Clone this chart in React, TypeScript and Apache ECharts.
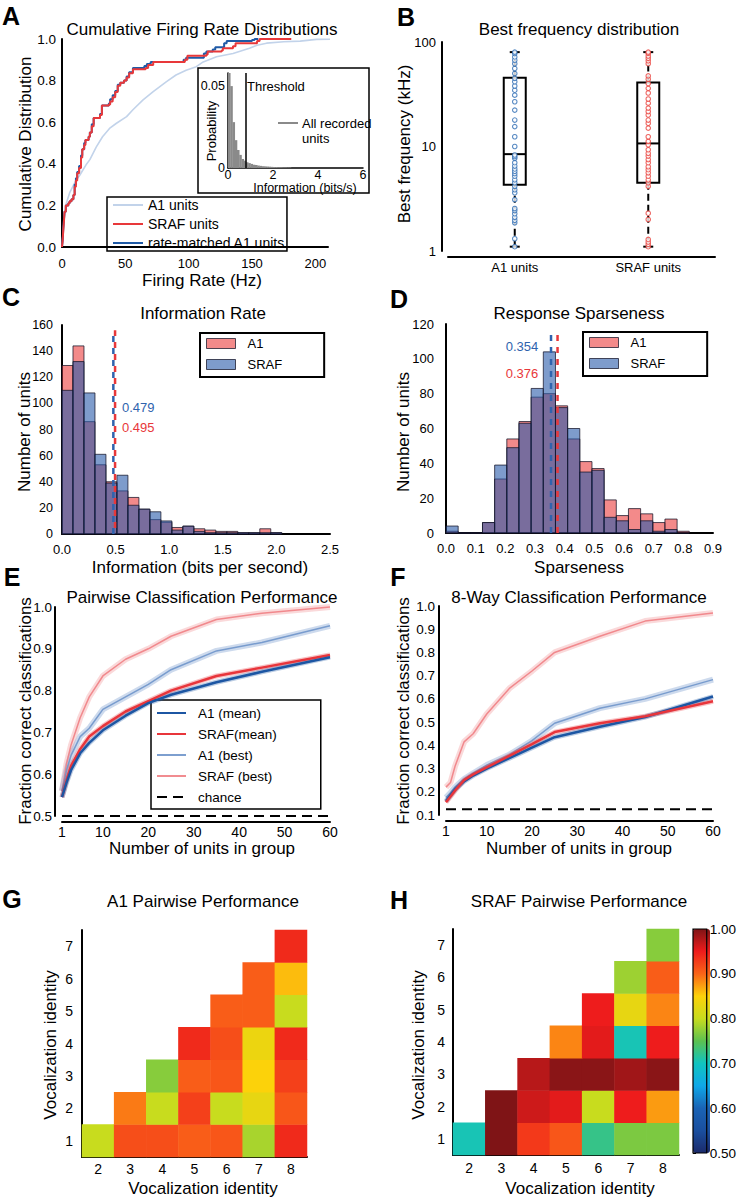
import React, { useEffect, useRef } from "react";
import * as echarts from "echarts";

const FONT = '"Liberation Sans", Arial, Helvetica, sans-serif';

// ---------- Panel A: cumulative firing-rate distributions ----------
const sRafRate = [0, 0.5, 1, 1.5, 2, 3, 5, 6, 7.5, 9, 10, 11, 12, 13.5, 15, 16, 17.5, 18.5, 21, 22, 23.5, 25, 30, 31.5, 37, 38, 40, 42, 44, 46, 49, 51, 53, 56, 66, 68, 72, 97, 99, 114, 115, 126, 127, 135, 137, 154, 156, 181];
const sRafCdf = [0, 0.03, 0.08, 0.12, 0.17, 0.2, 0.21, 0.22, 0.23, 0.25, 0.29, 0.32, 0.355, 0.38, 0.43, 0.47, 0.49, 0.515, 0.53, 0.55, 0.58, 0.62, 0.635, 0.68, 0.685, 0.7, 0.72, 0.745, 0.775, 0.79, 0.8, 0.815, 0.835, 0.855, 0.86, 0.875, 0.89, 0.9, 0.92, 0.925, 0.94, 0.945, 0.955, 0.965, 0.98, 0.99, 1.0, 1.0];
const matchedRate = [0, 0.5, 1, 1.5, 2, 3, 5, 6, 7.5, 9, 10, 11, 12, 13.5, 15, 16, 17.5, 18.5, 21, 22, 23.5, 25, 30, 31.5, 37, 38, 40, 42, 44, 46, 49, 51, 53, 56, 65, 67, 70, 96, 98, 112, 114, 119, 121, 128, 130, 150, 152, 155];
const matchedCdf = [0, 0.03, 0.09, 0.13, 0.17, 0.2, 0.21, 0.22, 0.23, 0.25, 0.3, 0.33, 0.36, 0.39, 0.44, 0.47, 0.5, 0.515, 0.53, 0.55, 0.59, 0.62, 0.64, 0.68, 0.69, 0.71, 0.73, 0.75, 0.78, 0.79, 0.8, 0.82, 0.84, 0.86, 0.87, 0.88, 0.89, 0.9, 0.91, 0.93, 0.94, 0.95, 0.96, 0.98, 0.99, 0.995, 1.0, 1.0];
const a1Rate = [0, 1, 2, 3.4, 6, 8.5, 11, 14, 16.5, 19, 22, 27, 32, 37.5, 43, 51, 56, 64, 72, 82.5, 90, 98, 106, 111.5, 122, 135, 148, 154, 161.5, 175, 188, 201, 221];
const a1Cdf = [0, 0.08, 0.147, 0.21, 0.26, 0.29, 0.32, 0.345, 0.37, 0.395, 0.42, 0.48, 0.53, 0.57, 0.595, 0.627, 0.66, 0.707, 0.747, 0.795, 0.827, 0.85, 0.867, 0.89, 0.915, 0.93, 0.955, 0.97, 0.98, 0.987, 0.99, 0.998, 1.0];

// inset: information of all recorded units
const insetBinWidth = 0.1;
const insetProb = [0.058, 0.05, 0.028, 0.017, 0.011, 0.008, 0.0055, 0.0045, 0.0035, 0.003, 0.0025, 0.002, 0.0018, 0.0015, 0.0013, 0.0011, 0.001, 0.0009, 0.0008, 0.0007, 0.0006, 0.0006, 0.0005, 0.0005, 0.0004, 0.0004, 0.0003, 0.0003];
const threshold = 0.8;
const insetYMax = 0.058;

// ---------- Panel B: best frequency ----------
const boxCategories = ["A1 units", "SRAF units"];
const a1Box = [1.1, 4.3, 8.45, 45.5, 80]; // min, q1, median, q3, max
const sRafBox = [1.1, 4.5, 10.7, 41, 80];
const a1BF = [1.1, 1.31, 1.86, 1.97, 2.1, 2.27, 2.44, 2.55, 3.1, 3.6, 3.86, 4.16, 4.5, 4.8, 5.2, 5.5, 5.8, 6.1, 6.5, 7.0, 7.7, 8.0, 8.3, 10, 12.4, 15.5, 17.9, 22.3, 26.8, 31, 34.6, 37.9, 41.7, 44.9, 50, 55.8, 62, 67, 72, 77.5, 80];
const sRafBF = [1.1, 1.16, 1.22, 1.29, 2.0, 2.3, 4.16, 4.5, 4.8, 5.2, 5.6, 6.0, 6.4, 7.0, 7.5, 8.1, 8.6, 9.3, 10.4, 11.2, 12.4, 15, 16.7, 17.9, 20, 21.6, 23.3, 26, 28.5, 32.5, 36, 40, 44, 47.4, 62, 66, 69.8, 73.5, 78, 80];

// ---------- Panel C: information rate histogram ----------
const cBinWidth = 0.1025;
const cA1Counts = [129, 144, 86, 53, 40, 33, 28, 19, 11, 9, 5, 6, 4, 3, 2, 2, 1, 1, 4, 1];
const cSrafCounts = [110, 132, 108, 61, 39, 45, 22, 19, 17, 10, 3, 6, 2, 1, 1, 1, 1, 1, 1, 1];
const cA1Median = 0.495;
const cSrafMedian = 0.479;

// ---------- Panel D: sparseness histogram ----------
const dBinWidth = 0.041;
const dA1Counts = [1, 0, 0, 6, 31, 54, 64, 78, 80, 73, 54, 41, 37, 19, 10, 14, 11, 6, 8, 1];
const dSrafCounts = [4, 0, 0, 6, 39, 49, 63, 83, 104, 72, 60, 35, 36, 9, 7, 2, 7, 1, 2, 0];
const dA1Median = 0.376;
const dSrafMedian = 0.354;

// ---------- Panels E/F: classification performance ----------
const groupSizes = [1, 2, 3, 5, 7, 10, 15, 20, 25, 35, 45, 60];
const ePairA1Mean = [0.545, 0.58, 0.61, 0.65, 0.675, 0.705, 0.74, 0.77, 0.79, 0.82, 0.845, 0.88];
const ePairSrafMean = [0.545, 0.585, 0.62, 0.66, 0.69, 0.715, 0.75, 0.775, 0.8, 0.835, 0.855, 0.885];
const ePairA1Best = [0.56, 0.61, 0.645, 0.69, 0.71, 0.755, 0.785, 0.815, 0.85, 0.895, 0.915, 0.955];
const ePairSrafBest = [0.56, 0.625, 0.67, 0.735, 0.785, 0.835, 0.875, 0.9, 0.93, 0.97, 0.985, 1.0];
const pairChance = 0.5;
const f8A1Mean = [0.16, 0.185, 0.21, 0.245, 0.27, 0.3, 0.345, 0.39, 0.435, 0.48, 0.522, 0.61];
const f8SrafMean = [0.155, 0.18, 0.205, 0.25, 0.275, 0.305, 0.355, 0.405, 0.457, 0.495, 0.525, 0.59];
const f8A1Best = [0.175, 0.195, 0.22, 0.255, 0.28, 0.315, 0.36, 0.42, 0.495, 0.56, 0.6, 0.683];
const f8SrafBest = [0.22, 0.24, 0.31, 0.415, 0.45, 0.535, 0.645, 0.72, 0.8, 0.87, 0.935, 0.97];
const eightChance = 0.125;
const unitTicks = [1, 10, 20, 30, 40, 50, 60];

// ---------- Panels G/H: pairwise performance matrices ----------
const vocX = ["2", "3", "4", "5", "6", "7", "8"];
const vocY = ["1", "2", "3", "4", "5", "6", "7"];
// row r (1..7): values for columns r+1 .. 8
const a1PairRows = [
  [0.8, 0.915, 0.915, 0.905, 0.91, 0.785, 0.94],
  [0.89, 0.8, 0.925, 0.8, 0.83, 0.91],
  [0.77, 0.905, 0.91, 0.85, 0.925],
  [0.94, 0.915, 0.835, 0.94],
  [0.905, 0.905, 0.8],
  [0.905, 0.86],
  [0.94],
];
const srafPairRows = [
  [0.705, 1.0, 0.93, 0.91, 0.725, 0.765, 0.765],
  [1.0, 0.965, 0.955, 0.8, 0.95, 0.875],
  [0.975, 0.995, 0.995, 0.985, 0.995],
  [0.885, 0.955, 0.705, 0.95],
  [0.95, 0.83, 0.885],
  [0.78, 0.905],
  [0.77],
];
const colorScale = ["#1b2a6b", "#1a4f9f", "#1a63b5", "#0fa8e8", "#10c4c0", "#5cc150", "#c8dc1e", "#fcd20a", "#fa6418", "#ee1c1c", "#7f1416"];

// ---------- colours ----------
const RED_FILL = "rgba(235, 60, 60, 0.6)";
const BLUE_FILL = "rgba(40, 90, 170, 0.6)";
const BAR_EDGE = "rgba(20, 20, 40, 0.75)";
const A1_MEAN = "#1c56a3";
const SRAF_MEAN = "#e8353b";
const A1_BEST = "#6f95ca";
const SRAF_BEST = "#f08084";

function pairs(xs: number[], ys: number[]) {
  return xs.map((x, i) => [x, ys[i]]);
}

function histSeries(name: string, counts: number[], bw: number, idx: number, fill: string, z: number) {
  return {
    type: "custom",
    name,
    xAxisIndex: idx,
    yAxisIndex: idx,
    z,
    silent: true,
    itemStyle: { color: fill },
    encode: { x: [0, 1], y: 2 },
    data: counts.map((c, i) => [i * bw, (i + 1) * bw, c]),
    renderItem: (_p: any, api: any) => {
      const p0 = api.coord([api.value(0), api.value(2)]);
      const p1 = api.coord([api.value(1), 0]);
      return {
        type: "rect",
        shape: { x: p0[0], y: p0[1], width: p1[0] - p0[0], height: p1[1] - p0[1] },
        style: { fill, stroke: BAR_EDGE, lineWidth: 1 },
      };
    },
  };
}

function curve(name: string, ys: number[], idx: number, color: string, width: number, opacity: number, z: number) {
  return {
    type: "line",
    name,
    xAxisIndex: idx,
    yAxisIndex: idx,
    data: pairs(groupSizes, ys),
    symbol: "none",
    showSymbol: false,
    clip: false,
    silent: true,
    z,
    itemStyle: { color },
    lineStyle: { color, width, opacity },
  };
}

function vline(name: string, x: number, top: number, idx: number, color: string, dashOffset: number) {
  return {
    type: "line",
    name,
    xAxisIndex: idx,
    yAxisIndex: idx,
    data: [[x, 0], [x, top]],
    symbol: "none",
    silent: true,
    clip: false,
    z: 6,
    lineStyle: { color, width: 2.5, type: [6, 6], dashOffset },
  };
}

function heatData(rows: number[][]) {
  const out: number[][] = [];
  rows.forEach((vals, ri) => {
    vals.forEach((v, j) => out.push([ri + j, ri, v]));
  });
  return out;
}

function text(t: string, x: number, y: number, size: number, opts: any = {}) {
  const align = opts.align || "center";
  return {
    type: "text",
    x,
    y,
    rotation: opts.rotate ? Math.PI / 2 : 0,
    z: 50,
    silent: true,
    style: {
      text: t,
      fontSize: size,
      fontFamily: FONT,
      fontWeight: opts.bold ? "bold" : "normal",
      fill: opts.color || "#000",
      align,
      verticalAlign: "middle",
      textAlign: align,
      textVerticalAlign: "middle",
    },
  };
}

const axisLineStyle = { show: true, lineStyle: { color: "#000", width: 2 } };
const lbl = (extra: any) => ({ color: "#000", fontSize: 13, fontFamily: FONT, ...extra });
const noSplit = { show: false };
const noTick = { show: false };

function buildOption() {
  const grids = [
    { left: 62, top: 39, width: 266, height: 208 }, // 0 A
    { left: 228, top: 73, width: 135, height: 95 }, // 1 inset
    { left: 448, top: 42, width: 267, height: 209 }, // 2 B
    { left: 62, top: 325, width: 268, height: 209 }, // 3 C
    { left: 446, top: 324, width: 267, height: 209 }, // 4 D
    { left: 62, top: 607, width: 268, height: 209 }, // 5 E
    { left: 446, top: 606, width: 267, height: 209 }, // 6 F
    { left: 82, top: 930, width: 225, height: 227 }, // 7 G
    { left: 453, top: 929, width: 226, height: 226 }, // 8 H
    { left: 693, top: 929, width: 17, height: 224, show: true, borderColor: "#000", borderWidth: 1.2, backgroundColor: "transparent", z: 10 }, // 9 colourbar
  ];

  const xAxis: any[] = [
    { type: "value", gridIndex: 0, min: 0, max: 210, interval: 50, offset: 8, axisLine: axisLineStyle, axisTick: noTick, splitLine: noSplit,
      axisLabel: lbl({ fontSize: 13, margin: 2, formatter: (v: number) => (v % 50 === 0 ? String(v) : "") }) },
    { type: "value", gridIndex: 1, min: 0, max: 6, interval: 2, axisLine: { show: true, lineStyle: { color: "#000", width: 1.5 } }, axisTick: noTick, splitLine: noSplit,
      axisLabel: lbl({ fontSize: 12.5, margin: 0 }) },
    { type: "category", gridIndex: 2, data: boxCategories, offset: 6, axisLine: axisLineStyle, axisTick: noTick, splitLine: noSplit,
      axisLabel: lbl({ margin: 4 }) },
    { type: "value", gridIndex: 3, min: 0, max: 2.5, interval: 0.5, offset: 7, axisLine: axisLineStyle, axisTick: noTick, splitLine: noSplit,
      axisLabel: lbl({ fontSize: 13, margin: 2, formatter: (v: number) => v.toFixed(1) }) },
    { type: "value", gridIndex: 4, min: 0, max: 0.9, interval: 0.1, offset: 6, axisLine: axisLineStyle, axisTick: noTick, splitLine: noSplit,
      axisLabel: lbl({ fontSize: 13, margin: 3, formatter: (v: number) => v.toFixed(1) }) },
    { type: "value", gridIndex: 5, min: 1, max: 60, offset: 6, axisLine: axisLineStyle, axisTick: noTick, splitLine: noSplit,
      axisLabel: lbl({ fontSize: 14, margin: 3, customValues: unitTicks }) },
    { type: "value", gridIndex: 6, min: 1, max: 60, offset: 6, axisLine: axisLineStyle, axisTick: noTick, splitLine: noSplit,
      axisLabel: lbl({ fontSize: 14, margin: 3, customValues: unitTicks }) },
    { type: "category", gridIndex: 7, data: vocX, axisLine: axisLineStyle, axisTick: noTick, splitLine: noSplit, splitArea: { show: false },
      axisLabel: lbl({ fontSize: 14, margin: 5 }) },
    { type: "category", gridIndex: 8, data: vocX, axisLine: axisLineStyle, axisTick: noTick, splitLine: noSplit, splitArea: { show: false },
      axisLabel: lbl({ fontSize: 14, margin: 6 }) },
    { type: "value", gridIndex: 9, show: false, min: 0, max: 1 },
  ];

  const yAxis: any[] = [
    { type: "value", gridIndex: 0, min: 0, max: 1, interval: 0.2, offset: 1, axisLine: axisLineStyle, axisTick: noTick, splitLine: noSplit,
      axisLabel: lbl({ fontSize: 13.5, margin: 5, formatter: (v: number) => v.toFixed(1) }) },
    { type: "value", gridIndex: 1, min: 0, max: insetYMax, interval: 0.05, axisLine: { show: true, lineStyle: { color: "#000", width: 1.5 } }, axisTick: noTick, splitLine: noSplit,
      axisLabel: lbl({ fontSize: 12.5, margin: 3, formatter: (v: number) => (Math.abs(v) < 1e-9 ? "0" : Math.abs(v - 0.05) < 1e-9 ? "0.05" : "") }) },
    { type: "log", gridIndex: 2, min: 1, max: 100, logBase: 10, offset: 6, axisLine: axisLineStyle, axisTick: noTick, splitLine: noSplit, minorTick: { show: false },
      axisLabel: lbl({ margin: 6, formatter: (v: number) => String(Math.round(v)) }) },
    { type: "value", gridIndex: 3, min: 0, max: 160, interval: 20, offset: 5, axisLine: axisLineStyle, axisTick: noTick, splitLine: noSplit,
      axisLabel: lbl({ fontSize: 12.5, margin: 4 }) },
    { type: "value", gridIndex: 4, min: 0, max: 120, interval: 20, offset: 7, axisLine: axisLineStyle, axisTick: noTick, splitLine: noSplit,
      axisLabel: lbl({ fontSize: 13, margin: 5 }) },
    { type: "value", gridIndex: 5, min: 0.5, max: 1.0, interval: 0.1, offset: 7, axisLine: axisLineStyle, axisTick: noTick, splitLine: noSplit,
      axisLabel: lbl({ fontSize: 13.5, margin: 3, formatter: (v: number) => v.toFixed(1) }) },
    { type: "value", gridIndex: 6, min: 0.1, max: 1.0, interval: 0.1, offset: 7, axisLine: axisLineStyle, axisTick: noTick, splitLine: noSplit,
      axisLabel: lbl({ fontSize: 13.5, margin: 4, formatter: (v: number) => v.toFixed(1) }) },
    { type: "category", gridIndex: 7, data: vocY, axisLine: axisLineStyle, axisTick: noTick, splitLine: noSplit, splitArea: { show: false },
      axisLabel: lbl({ fontSize: 14, margin: 9 }) },
    { type: "category", gridIndex: 8, data: vocY, axisLine: axisLineStyle, axisTick: noTick, splitLine: noSplit, splitArea: { show: false },
      axisLabel: lbl({ fontSize: 14, margin: 8 }) },
    { type: "value", gridIndex: 9, position: "right", min: 0.5, max: 1.0, interval: 0.1, axisLine: { show: false },
      axisTick: { show: true, length: 3, lineStyle: { color: "#000", width: 1 } }, splitLine: noSplit,
      axisLabel: lbl({ fontSize: 13.5, margin: 3, formatter: (v: number) => v.toFixed(2) }) },
  ];

  const series: any[] = [];
  // A
  series.push({ type: "line", name: "A1 units", xAxisIndex: 0, yAxisIndex: 0, data: pairs(a1Rate, a1Cdf), symbol: "none", clip: false, silent: true, z: 2,
    itemStyle: { color: "#c2d3ea" }, lineStyle: { color: "#c2d3ea", width: 1.6 } });
  series.push({ type: "line", name: "rate-matched A1 units", xAxisIndex: 0, yAxisIndex: 0, data: pairs(matchedRate, matchedCdf), step: "end", symbol: "none", clip: false, silent: true, z: 3,
    itemStyle: { color: "#1f5aa6" }, lineStyle: { color: "#1f5aa6", width: 2 } });
  series.push({ type: "line", name: "SRAF units", xAxisIndex: 0, yAxisIndex: 0, data: pairs(sRafRate, sRafCdf), step: "end", symbol: "none", clip: false, silent: true, z: 4,
    itemStyle: { color: "#e8383a" }, lineStyle: { color: "#e8383a", width: 2 } });
  // inset
  series.push({
    type: "custom", name: "All recorded units", xAxisIndex: 1, yAxisIndex: 1, z: 3, silent: true,
    itemStyle: { color: "#8a8a8a" }, encode: { x: [0, 1], y: 2 },
    data: insetProb.map((p, i) => [i * insetBinWidth, (i + 1) * insetBinWidth, p]),
    renderItem: (_p: any, api: any) => {
      const p0 = api.coord([api.value(0), api.value(2)]);
      const p1 = api.coord([api.value(1), 0]);
      return { type: "rect", shape: { x: p0[0], y: p0[1], width: p1[0] - p0[0] + 0.3, height: p1[1] - p0[1] }, style: { fill: "#8a8a8a" } };
    },
  });
  series.push({ type: "line", name: "Threshold", xAxisIndex: 1, yAxisIndex: 1, data: [[threshold, 0], [threshold, insetYMax]], symbol: "none", silent: true, clip: false, z: 4,
    lineStyle: { color: "#000", width: 1.5 } });
  // B
  series.push({
    type: "custom", name: "box", xAxisIndex: 2, yAxisIndex: 2, z: 3, silent: true,
    encode: { x: 0, y: [1, 2, 3, 4, 5] },
    data: [[0, ...a1Box], [1, ...sRafBox]],
    renderItem: (_p: any, api: any) => {
      const c = api.value(0);
      const pt = (k: number) => api.coord([c, api.value(k)]);
      const pMin = pt(1), pQ1 = pt(2), pMed = pt(3), pQ3 = pt(4), pMax = pt(5);
      const x = pMin[0];
      const hw = 11, cw = 5;
      const blk = { stroke: "#000", lineWidth: 2 };
      return {
        type: "group",
        children: [
          { type: "line", shape: { x1: x, y1: pQ3[1], x2: x, y2: pMax[1] }, style: { ...blk, lineDash: [7, 4] } },
          { type: "line", shape: { x1: x, y1: pQ1[1], x2: x, y2: pMin[1] }, style: { ...blk, lineDash: [7, 4] } },
          { type: "line", shape: { x1: x - cw, y1: pMax[1], x2: x + cw, y2: pMax[1] }, style: blk },
          { type: "line", shape: { x1: x - cw, y1: pMin[1], x2: x + cw, y2: pMin[1] }, style: blk },
          { type: "rect", shape: { x: x - hw, y: pQ3[1], width: 2 * hw, height: pQ1[1] - pQ3[1] }, style: { fill: "none", stroke: "#000", lineWidth: 2 } },
          { type: "line", shape: { x1: x - hw, y1: pMed[1], x2: x + hw, y2: pMed[1] }, style: blk },
        ],
      };
    },
  });
  series.push({ type: "scatter", name: "A1 BF", xAxisIndex: 2, yAxisIndex: 2, z: 4, silent: true, data: a1BF.map((v) => [0, v]),
    symbol: "circle", symbolSize: 4.5, itemStyle: { color: "#fff", borderColor: "#2e6db4", borderWidth: 1.1 } });
  series.push({ type: "scatter", name: "SRAF BF", xAxisIndex: 2, yAxisIndex: 2, z: 4, silent: true, data: sRafBF.map((v) => [1, v]),
    symbol: "circle", symbolSize: 4.5, itemStyle: { color: "#fff", borderColor: "#e8413c", borderWidth: 1.1 } });
  // C
  series.push(histSeries("A1", cA1Counts, cBinWidth, 3, RED_FILL, 3));
  series.push(histSeries("SRAF", cSrafCounts, cBinWidth, 3, BLUE_FILL, 4));
  series.push(vline("C SRAF median", cSrafMedian, 156, 3, "#2f63ad", 0));
  series.push(vline("C A1 median", cA1Median, 156, 3, "#e8383a", 6));
  // D
  series.push(histSeries("A1", dA1Counts, dBinWidth, 4, RED_FILL, 3));
  series.push(histSeries("SRAF", dSrafCounts, dBinWidth, 4, BLUE_FILL, 4));
  series.push(vline("D SRAF median", dSrafMedian, 117, 4, "#2f63ad", 0));
  series.push(vline("D A1 median", dA1Median, 117, 4, "#e8383a", 0));
  // E
  series.push(curve("E sb band", ePairSrafBest, 5, SRAF_BEST, 6, 0.3, 2));
  series.push(curve("E ab band", ePairA1Best, 5, A1_BEST, 6, 0.35, 2));
  series.push(curve("SRAF (best)", ePairSrafBest, 5, SRAF_BEST, 1.5, 0.9, 3));
  series.push(curve("A1 (best)", ePairA1Best, 5, A1_BEST, 1.5, 0.9, 3));
  series.push(curve("E sm band", ePairSrafMean, 5, SRAF_MEAN, 5, 0.3, 4));
  series.push(curve("E am band", ePairA1Mean, 5, A1_MEAN, 5, 0.3, 4));
  series.push(curve("SRAF(mean)", ePairSrafMean, 5, SRAF_MEAN, 2.5, 1, 5));
  series.push(curve("A1 (mean)", ePairA1Mean, 5, A1_MEAN, 2.5, 1, 5));
  series.push({ type: "line", name: "chance", xAxisIndex: 5, yAxisIndex: 5, data: [[groupSizes[0], pairChance], [groupSizes[groupSizes.length - 1], pairChance]],
    symbol: "none", clip: false, silent: true, z: 5, itemStyle: { color: "#000" }, lineStyle: { color: "#000", width: 2, type: [10, 6] } });
  // F
  series.push(curve("F sb band", f8SrafBest, 6, SRAF_BEST, 6, 0.3, 2));
  series.push(curve("F ab band", f8A1Best, 6, A1_BEST, 6, 0.35, 2));
  series.push(curve("F SRAF best", f8SrafBest, 6, SRAF_BEST, 1.5, 0.9, 3));
  series.push(curve("F A1 best", f8A1Best, 6, A1_BEST, 1.5, 0.9, 3));
  series.push(curve("F sm band", f8SrafMean, 6, SRAF_MEAN, 5, 0.3, 4));
  series.push(curve("F am band", f8A1Mean, 6, A1_MEAN, 5, 0.3, 4));
  series.push(curve("F A1 mean", f8A1Mean, 6, A1_MEAN, 2.5, 1, 5));
  series.push(curve("F SRAF mean", f8SrafMean, 6, SRAF_MEAN, 2.5, 1, 5));
  series.push({ type: "line", name: "F chance", xAxisIndex: 6, yAxisIndex: 6, data: [[groupSizes[0], eightChance], [groupSizes[groupSizes.length - 1], eightChance]],
    symbol: "none", clip: false, silent: true, z: 5, lineStyle: { color: "#000", width: 2, type: [10, 6] } });
  // G, H
  const gIdx = series.length;
  series.push({ type: "heatmap", name: "A1 pairwise", xAxisIndex: 7, yAxisIndex: 7, data: heatData(a1PairRows), silent: true, itemStyle: { borderWidth: 0 } });
  const hIdx = series.length;
  series.push({ type: "heatmap", name: "SRAF pairwise", xAxisIndex: 8, yAxisIndex: 8, data: heatData(srafPairRows), silent: true, itemStyle: { borderWidth: 0 } });

  const legendText = (size: number, extra: any = {}) => ({ fontSize: size, fontFamily: FONT, color: "#000", ...extra });
  const hiddenSymbol = { color: "transparent", borderColor: "transparent", borderWidth: 0, opacity: 0 };
  const histLegendData = [
    { name: "A1", icon: "rect", itemStyle: { color: RED_FILL, borderColor: BAR_EDGE, borderWidth: 1 } },
    { name: "SRAF", icon: "rect", itemStyle: { color: BLUE_FILL, borderColor: BAR_EDGE, borderWidth: 1 } },
  ];
  const legend = [
    { left: 107, top: 197, orient: "vertical", selectedMode: false, padding: [1, 2, 1, 5], itemGap: 5, itemWidth: 30, itemHeight: 14,
      borderColor: "#000", borderWidth: 1.5, textStyle: legendText(14), itemStyle: hiddenSymbol,
      data: ["A1 units", "SRAF units", "rate-matched A1 units"] },
    { left: 200, top: 333, orient: "vertical", selectedMode: false, padding: [4, 42, 6, 6], itemGap: 8, itemWidth: 29, itemHeight: 10,
      borderColor: "#000", borderWidth: 2, textStyle: legendText(13, { padding: [0, 0, 0, 7] }), data: histLegendData },
    { left: 583, top: 332, orient: "vertical", selectedMode: false, padding: [4, 42, 6, 6], itemGap: 8, itemWidth: 29, itemHeight: 10,
      borderColor: "#000", borderWidth: 2, textStyle: legendText(13, { padding: [0, 0, 0, 7] }), data: histLegendData },
    { left: 151, top: 700, orient: "vertical", selectedMode: false, padding: [6, 44, 5, 5], itemGap: 7, itemWidth: 29, itemHeight: 14,
      borderColor: "#000", borderWidth: 1.5, textStyle: legendText(13.5, { padding: [0, 0, 0, 7] }), itemStyle: hiddenSymbol,
      data: ["A1 (mean)", "SRAF(mean)", "A1 (best)", "SRAF (best)", "chance"] },
  ];

  const graphic: any[] = [
    // panel letters
    text("A", 11, 16, 25, { bold: true }),
    text("B", 406, 16.5, 25, { bold: true }),
    text("C", 11, 297, 25, { bold: true }),
    text("D", 399, 299, 25, { bold: true }),
    text("E", 12, 577, 25, { bold: true }),
    text("F", 398, 577, 25, { bold: true }),
    text("G", 12, 899, 25, { bold: true }),
    text("H", 399, 900, 25, { bold: true }),
    // titles
    text("Cumulative Firing Rate Distributions", 202, 29, 17),
    text("Best frequency distribution", 579, 29, 17),
    text("Information Rate", 203, 313, 17),
    text("Response Sparseness", 579, 313, 17),
    text("Pairwise Classification Performance", 202, 597, 17),
    text("8-Way Classification Performance", 579, 597, 17),
    text("A1 Pairwise Performance", 203, 901, 17),
    text("SRAF Pairwise Performance", 579, 901, 17),
    // axis titles
    text("Firing Rate (Hz)", 202, 280, 17),
    text("Cumulative Distribution", 25, 144, 17, { rotate: true }),
    text("Best frequency (kHz)", 404, 144, 17, { rotate: true }),
    text("Information (bits per second)", 200, 567.5, 17),
    text("Number of units", 24, 432, 17, { rotate: true }),
    text("Sparseness", 579, 567, 17),
    text("Number of units", 403, 432, 17, { rotate: true }),
    text("Number of units in group", 202, 848, 17),
    text("Fraction correct classifications", 25, 711, 17, { rotate: true }),
    text("Number of units in group", 579, 848, 17),
    text("Fraction correct classifications", 403, 711, 17, { rotate: true }),
    text("Vocalization identity", 203, 1188, 17),
    text("Vocalization identity", 50, 1045, 17, { rotate: true }),
    text("Vocalization identity", 580, 1188, 17),
    text("Vocalization identity", 418, 1045, 17, { rotate: true }),
    // inset decorations
    { type: "rect", z: 40, silent: true, shape: { x: 198, y: 68, width: 171, height: 125 }, style: { fill: "none", stroke: "#000", lineWidth: 1.5 } },
    text("Probability", 211, 131, 13, { rotate: true }),
    text("Information (bits/s)", 305, 188, 12.5),
    text("Threshold", 247, 86, 13, { align: "left" }),
    { type: "line", z: 40, silent: true, shape: { x1: 278, y1: 123, x2: 298, y2: 123 }, style: { stroke: "#8a8a8a", lineWidth: 2 } },
    text("All recorded", 302, 123, 13, { align: "left" }),
    text("units", 302, 138, 13, { align: "left" }),
    // median annotations
    text(String(cSrafMedian), 122, 407, 13, { align: "left", color: "#2f63ad" }),
    text(String(cA1Median), 122, 427, 13, { align: "left", color: "#e8383a" }),
    text(String(dSrafMedian), 522, 346, 13, { color: "#2f63ad" }),
    text(String(dA1Median), 522, 373, 13, { color: "#e8383a" }),
  ];

  return {
    animation: false,
    backgroundColor: "#fff",
    textStyle: { fontFamily: FONT },
    grid: grids,
    xAxis,
    yAxis,
    series,
    legend,
    graphic,
    visualMap: [
      {
        type: "continuous",
        min: 0.5,
        max: 1.0,
        seriesIndex: [gIdx, hIdx],
        left: 693,
        top: 929,
        itemWidth: 17,
        itemHeight: 224,
        padding: 0,
        calculable: false,
        hoverLink: false,
        text: null,
        showLabel: false,
        inRange: { color: colorScale },
      },
    ],
  };
}

export default function App() {
  const ref = useRef<HTMLDivElement>(null);
  useEffect(() => {
    if (!ref.current) return;
    const chart = echarts.init(ref.current, null, { renderer: "svg" });
    chart.setOption(buildOption() as any);
    return () => chart.dispose();
  }, []);
  return (
    <div
      ref={ref}
      style={{ position: "absolute", left: 0, top: 0, width: 739, height: 1199, background: "#fff" }}
    />
  );
}
